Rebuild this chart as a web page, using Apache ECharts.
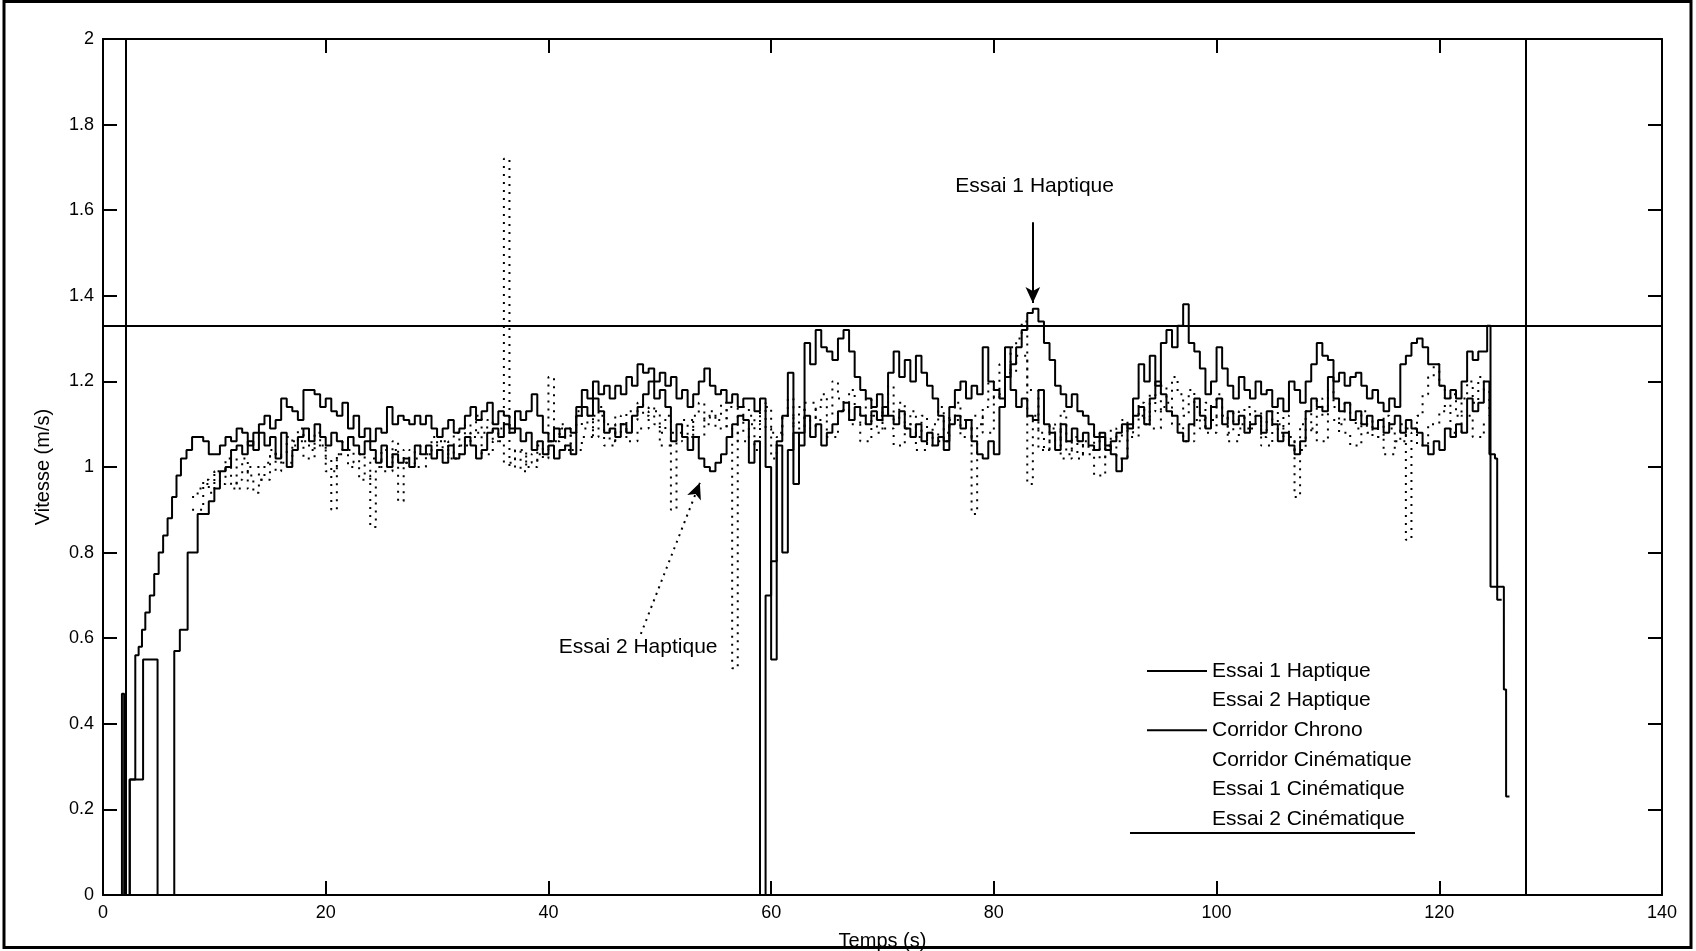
<!DOCTYPE html>
<html><head><meta charset="utf-8">
<script src="https://cdn.jsdelivr.net/npm/echarts@6/dist/echarts.min.js"></script>
<style>html,body{margin:0;padding:0;background:#fff;overflow:hidden}#c{width:1696px;height:951px}</style>
</head><body><div id="c"></div>
<script>
// ---------------- DATA ----------------
const xTicks = { min: 0, max: 140, interval: 20 };
const yTicks = { min: 0, max: 2, interval: 0.2 };

// Sampling clock of the recorded traces (seconds)
const GRID_T0 = 8.0;
const HAPTIC_DT = 0.5;
const KIN1_DT = 0.5;
const KIN2_DT = 1.0;

// Essai 1 Haptique (solid)
const essai1HaptiqueStart = [[0,0],[1.7,0.47],[1.9,0],[2.4,0.27],[3.6,0.55],[4.9,0],[6.4,0.57],[6.9,0.62],[7.6,0.80]];
const essai1HaptiqueValues = [
 0.80,0.89,0.89,0.92,0.95,0.99,1.00,1.04,1.05,1.03,
 1.06,1.04,1.08,1.05,1.07,1.02,1.08,1.00,1.04,1.07,
 1.09,1.06,1.10,1.07,1.05,1.08,1.06,1.04,1.07,1.05,
 1.03,1.06,1.04,1.01,1.05,1.00,1.03,1.01,1.02,1.00,
 1.05,1.03,1.05,1.02,1.04,1.01,1.05,1.02,1.03,1.07,
 1.05,1.02,1.04,1.08,1.09,1.07,1.10,1.08,1.09,1.06,
 1.08,1.04,1.06,1.03,1.05,1.02,1.04,1.05,1.03,1.12,
 1.14,1.12,1.16,1.13,1.08,1.09,1.07,1.10,1.08,1.12,
 1.14,1.17,1.20,1.16,1.18,1.14,1.06,1.10,1.07,1.04,
 1.07,1.02,1.00,0.99,1.01,1.03,1.07,1.10,1.12,1.11,
 1.01,1.06,0.00,0.70,0.78,1.05,0.80,1.04,1.08,1.05,
 1.12,1.07,1.10,1.05,1.08,1.10,1.13,1.15,1.11,1.14,
 1.12,1.10,1.13,1.11,1.14,1.12,1.10,1.13,1.09,1.07,
 1.10,1.06,1.08,1.05,1.07,1.04,1.10,1.12,1.09,1.11,
 1.06,1.03,1.02,1.06,1.03,1.14,1.28,1.18,1.14,1.16,
 1.12,1.11,1.18,1.10,1.08,1.04,1.10,1.06,1.09,1.06,
 1.08,1.05,1.04,1.07,1.04,1.06,1.08,1.10,1.09,1.12,
 1.14,1.10,1.16,1.20,1.17,1.13,1.12,1.08,1.06,1.10,
 1.16,1.12,1.09,1.14,1.16,1.10,1.13,1.10,1.12,1.08,
 1.10,1.12,1.08,1.13,1.10,1.06,1.08,1.05,1.03,1.06,
 1.13,1.16,1.14,1.13,1.21,1.16,1.13,1.15,1.11,1.13,
 1.10,1.12,1.09,1.11,1.08,1.10,1.12,1.08,1.11,1.09,
 1.08,1.05,1.03,1.06,1.04,1.09,1.07,1.10,1.08,1.16,
 1.13,1.15,1.20,1.03
];
const essai1HaptiqueEnd = [[125.0,1.02],[125.2,0.69],[125.6,0.69]];

// Essai 2 Haptique (solid)
const essai2HaptiqueStart = [[0,0],[2.4,0.27],[2.9,0.56],[3.2,0.58],[3.5,0.62],[3.8,0.66],[4.2,0.70],[4.6,0.75],[5.0,0.80],[5.4,0.84],[5.8,0.88],[6.2,0.93],[6.6,0.98],[7.0,1.02],[7.5,1.04]];
const essai2HaptiqueValues = [
 1.07,1.07,1.06,1.03,1.03,1.05,1.07,1.06,1.09,1.08,
 1.05,1.08,1.10,1.12,1.09,1.11,1.16,1.14,1.13,1.11,
 1.18,1.18,1.17,1.14,1.16,1.13,1.12,1.15,1.09,1.12,
 1.07,1.09,1.06,1.09,1.08,1.14,1.10,1.12,1.11,1.10,
 1.12,1.10,1.12,1.09,1.07,1.09,1.11,1.08,1.09,1.12,
 1.14,1.11,1.13,1.15,1.10,1.13,1.12,1.09,1.13,1.11,
 1.13,1.17,1.12,1.08,1.06,1.09,1.07,1.09,1.08,1.14,
 1.18,1.16,1.20,1.17,1.19,1.16,1.19,1.17,1.21,1.19,
 1.24,1.22,1.23,1.20,1.22,1.19,1.21,1.16,1.18,1.14,
 1.17,1.20,1.23,1.19,1.17,1.18,1.15,1.17,1.14,1.16,
 1.16,1.13,1.16,1.00,0.55,1.06,1.12,1.22,0.96,1.08,
 1.29,1.24,1.32,1.28,1.27,1.25,1.30,1.32,1.27,1.21,
 1.18,1.16,1.14,1.17,1.12,1.22,1.27,1.21,1.25,1.20,
 1.26,1.22,1.19,1.16,1.12,1.06,1.14,1.18,1.20,1.16,
 1.19,1.17,1.28,1.20,1.18,1.16,1.21,1.24,1.28,1.32,
 1.36,1.37,1.34,1.29,1.25,1.19,1.17,1.14,1.17,1.13,
 1.12,1.10,1.07,1.08,1.05,1.03,0.99,1.02,1.10,1.16,
 1.24,1.20,1.26,1.19,1.29,1.32,1.28,1.33,1.38,1.29,
 1.27,1.23,1.17,1.20,1.28,1.23,1.19,1.16,1.21,1.18,
 1.16,1.20,1.17,1.18,1.14,1.16,1.13,1.20,1.18,1.15,
 1.20,1.24,1.29,1.26,1.25,1.20,1.22,1.19,1.21,1.22,
 1.19,1.16,1.18,1.15,1.13,1.16,1.14,1.24,1.26,1.29,
 1.30,1.28,1.24,1.24,1.19,1.16,1.18,1.16,1.20,1.27,
 1.25,1.27
];
const essai2HaptiqueEnd = [[124.0,1.27],[124.3,1.33],[124.6,0.72],[125.8,0.48],[126.0,0.23],[126.3,0.23]];

// Essai 1 Cinématique (dotted)
const essai1CinematiqueValues = [
 0.93,0.95,0.97,0.94,0.99,0.96,1.00,0.95,0.97,1.02,
 0.98,0.94,0.97,1.01,1.04,0.99,1.03,1.07,1.05,1.09,
 1.06,1.04,1.08,1.05,1.02,0.90,1.03,1.06,1.04,1.01,
 1.03,0.98,0.86,1.00,1.04,1.02,1.06,0.92,1.01,1.04,
 1.02,1.05,1.03,1.07,1.04,1.06,1.02,1.08,1.05,1.10,
 1.07,1.12,1.08,1.11,1.06,1.09,1.72,1.00,1.04,0.99,
 1.03,1.01,1.05,1.02,1.21,1.06,1.10,1.04,1.08,1.13,
 1.09,1.12,1.07,1.14,1.10,1.06,1.12,1.08,1.13,1.11,
 1.15,1.12,1.14,1.10,1.08,1.12,0.90,1.06,1.10,1.07,
 1.12,1.15,1.10,1.13,1.11,1.15,1.09,0.53,1.08,1.14,
 1.12,1.04,1.15,1.09,1.02,1.07,1.12,1.16,1.10,1.14,
 1.11,1.09,1.14,1.17,1.12,1.20,1.16,1.13,1.18,1.14,
 1.10,1.16,1.12,1.08,1.14,1.19,1.11,1.15,1.09,1.13,
 1.07,1.12,1.05,1.10,1.14,1.08,1.12,1.15,1.11,1.09,
 0.89,1.10,1.14,1.20,1.16,1.24,1.21,1.28,1.30,1.34,
 0.96,1.12,1.08,1.04,1.10,1.06,1.13,1.03,1.07,1.02,
 1.06,1.04,1.08,1.02,1.05,1.09,1.06,1.11,1.08,1.12,
 1.15,1.10,1.17,1.13,1.19,1.15,1.21,1.17,1.12,1.18,
 1.14,1.09,1.15,1.11,1.17,1.12,1.08,1.13,1.10,1.14,
 1.09,1.12,1.07,1.11,1.14,1.08,1.12,1.06,0.93,1.10,
 1.13,1.08,1.16,1.12,1.18,1.14,1.10,1.15,1.11,1.09,
 1.13,1.08,1.11,1.07,1.12,1.09,1.06,1.10,0.83,1.08,
 1.12,1.17,1.21,1.24,1.19,1.14,1.17,1.12,1.16,1.20,
 1.15,1.21,1.18,1.12
];

// Essai 2 Cinématique (dotted)
const essai2CinematiqueValues = [
 0.90,0.96,0.99,1.02,0.95,1.00,0.97,1.03,1.01,1.06,
 1.02,1.05,0.99,1.03,1.00,0.97,1.02,0.99,1.04,1.01,
 1.00,1.03,1.06,1.02,1.05,1.08,1.03,1.06,1.01,1.04,
 1.00,1.03,1.06,1.09,1.04,1.07,1.12,1.05,1.10,1.06,
 1.09,1.13,1.05,1.08,1.11,1.07,1.12,1.09,1.14,1.06,
 1.10,1.14,1.08,1.12,1.09,1.15,1.11,1.07,1.13,1.10,
 1.06,1.12,1.09,1.05,1.10,1.04,1.08,1.06,1.11,1.07,
 1.12,1.08,1.17,1.22,1.26,1.18,1.04,1.09,1.02,1.06,
 1.03,0.98,1.05,1.02,1.07,1.12,1.09,1.14,1.10,1.06,
 1.11,1.08,1.12,1.06,1.09,1.13,1.05,1.10,1.07,1.04,
 1.09,1.06,1.11,1.08,1.05,1.10,1.07,1.03,1.06,1.09,
 1.05,1.10,1.13,1.08,1.12,1.07,1.11
];

// Corridor Chrono: start / end time and speed limit
const corridorTimes = [2.0, 127.8];
const corridorSpeed = [1.335];

// Annotations: text, label position, arrow start, arrow tip
const annotationTexts = ['Essai 1 Haptique', 'Essai 2 Haptique'];
const annotationLabelPos = [[83.7, 1.654], [48.1, 0.577]];
const annotationArrowFrom = [[83.5, 1.572], [48.3, 0.61]];
const annotationArrowTo = [[83.5, 1.383], [53.6, 0.963]];

const legendNames = ['Essai 1 Haptique','Essai 2 Haptique','Corridor Chrono','Corridor Cinématique','Essai 1 Cinématique','Essai 2 Cinématique'];
const legendSampleVisible = [true, false, true, false, false, false];

// ---------------- BUILD ----------------
function build(start, t0, dt, values, end) {
  const pts = start.slice();
  values.forEach((v, i) => pts.push([Math.round((t0 + i * dt) * 100) / 100, v]));
  return pts.concat(end);
}
const s1 = build(essai1HaptiqueStart, GRID_T0, HAPTIC_DT, essai1HaptiqueValues, essai1HaptiqueEnd);
const s2 = build(essai2HaptiqueStart, GRID_T0, HAPTIC_DT, essai2HaptiqueValues, essai2HaptiqueEnd);
const d1 = build([], GRID_T0, KIN1_DT, essai1CinematiqueValues, []);
const d2 = build([], GRID_T0, KIN2_DT, essai2CinematiqueValues, []);

const FONT = '"Liberation Sans", Arial, Helvetica, sans-serif';
const BLACK = '#000';

function axisCommon(showLabel) {
  return {
    axisLine: { show: true, onZero: false, lineStyle: { color: BLACK, width: 2 } },
    axisTick: { show: true, inside: true, length: 14, lineStyle: { color: BLACK, width: 2 } },
    axisLabel: { show: showLabel, color: BLACK, fontSize: 18, fontFamily: FONT, margin: 9 },
    splitLine: { show: false }
  };
}

const chart = echarts.init(document.getElementById('c'), null, { renderer: 'canvas' });
const solid = { color: BLACK, width: 2, type: 'solid' };
const dotted = { color: BLACK, width: 2, type: [2, 6] };

chart.setOption({
  animation: false,
  backgroundColor: '#fff',
  grid: { left: 103, right: 34, top: 39, bottom: 56, containLabel: false, outerBoundsMode: 'none' },
  xAxis: [
    Object.assign({ type: 'value', position: 'bottom', min: xTicks.min, max: xTicks.max, interval: xTicks.interval,
      name: 'Temps (s)', nameLocation: 'middle', nameGap: 36,
      nameTextStyle: { color: BLACK, fontSize: 20, fontFamily: FONT } }, axisCommon(true)),
    Object.assign({ type: 'value', position: 'top', min: xTicks.min, max: xTicks.max, interval: xTicks.interval }, axisCommon(false))
  ],
  yAxis: [
    Object.assign({ type: 'value', position: 'left', min: yTicks.min, max: yTicks.max, interval: yTicks.interval,
      name: 'Vitesse (m/s)', nameLocation: 'middle', nameGap: 50,
      nameTextStyle: { color: BLACK, fontSize: 20, fontFamily: FONT } }, axisCommon(true)),
    Object.assign({ type: 'value', position: 'right', min: yTicks.min, max: yTicks.max, interval: yTicks.interval }, axisCommon(false))
  ],
  legend: {
    orient: 'vertical', left: 1142, top: 655,
    icon: 'rect', itemWidth: 60, itemHeight: 2, itemGap: 7.6,
    selectedMode: false,
    itemStyle: { color: BLACK },
    textStyle: { color: BLACK, fontSize: 21, fontFamily: FONT, lineHeight: 22 },
    data: legendNames.map((n, i) => legendSampleVisible[i] ? { name: n, itemStyle: { color: BLACK } } :
      { name: n, itemStyle: { color: BLACK, opacity: 0 } })
  },
  series: [
    { name: legendNames[0], type: 'line', step: 'end', data: s1, showSymbol: false, symbol: 'none', lineStyle: solid, itemStyle: { color: BLACK }, z: 3 },
    { name: legendNames[1], type: 'line', step: 'end', data: s2, showSymbol: false, symbol: 'none', lineStyle: solid, itemStyle: { color: BLACK }, z: 3 },
    { name: legendNames[2], type: 'line', data: [], symbol: 'none', lineStyle: solid, itemStyle: { color: BLACK },
      markLine: { silent: true, symbol: ['none', 'none'], label: { show: false }, lineStyle: solid,
        data: corridorTimes.map(t => ({ xAxis: t })).concat(corridorSpeed.map(v => ({ yAxis: v }))) } },
    { name: legendNames[3], type: 'line', data: [], symbol: 'none', lineStyle: dotted, itemStyle: { color: BLACK } },
    { name: legendNames[4], type: 'line', step: 'end', data: d1, showSymbol: false, symbol: 'none', lineStyle: dotted, itemStyle: { color: BLACK }, z: 2 },
    { name: legendNames[5], type: 'line', step: 'end', data: d2, showSymbol: false, symbol: 'none', lineStyle: dotted, itemStyle: { color: BLACK }, z: 2 },
    { name: 'annotations', type: 'line', data: [], symbol: 'none',
      markLine: { silent: true, symbol: ['none', 'arrow'], symbolSize: [11, 16], label: { show: false },
        data: annotationArrowFrom.map((f, i) => [
          { coord: f, lineStyle: i === 0 ? solid : { color: BLACK, width: 2, type: [2, 5] }, itemStyle: { color: BLACK } },
          { coord: annotationArrowTo[i] }
        ]) } },
    { name: 'annotationTexts', type: 'scatter', symbolSize: 1, itemStyle: { color: BLACK, opacity: 0 },
      data: annotationTexts.map((t, i) => ({ name: t, value: annotationLabelPos[i] })),
      label: { show: true, position: [0, 0], align: 'center', verticalAlign: 'middle', formatter: '{b}',
        color: '#000', opacity: 1, fontSize: 21, fontFamily: FONT, textBorderWidth: 0 }, silent: true, z: 5 }
  ],
  graphic: [
    { type: 'line', z: 50, shape: { x1: 1130, y1: 833, x2: 1415, y2: 833 }, style: { stroke: BLACK, lineWidth: 2 } },
    { type: 'rect', z: 100, shape: { x: 4, y: 1.5, width: 1687, height: 946 }, style: { fill: 'none', stroke: BLACK, lineWidth: 3 } }
  ]
});
</script></body></html>
